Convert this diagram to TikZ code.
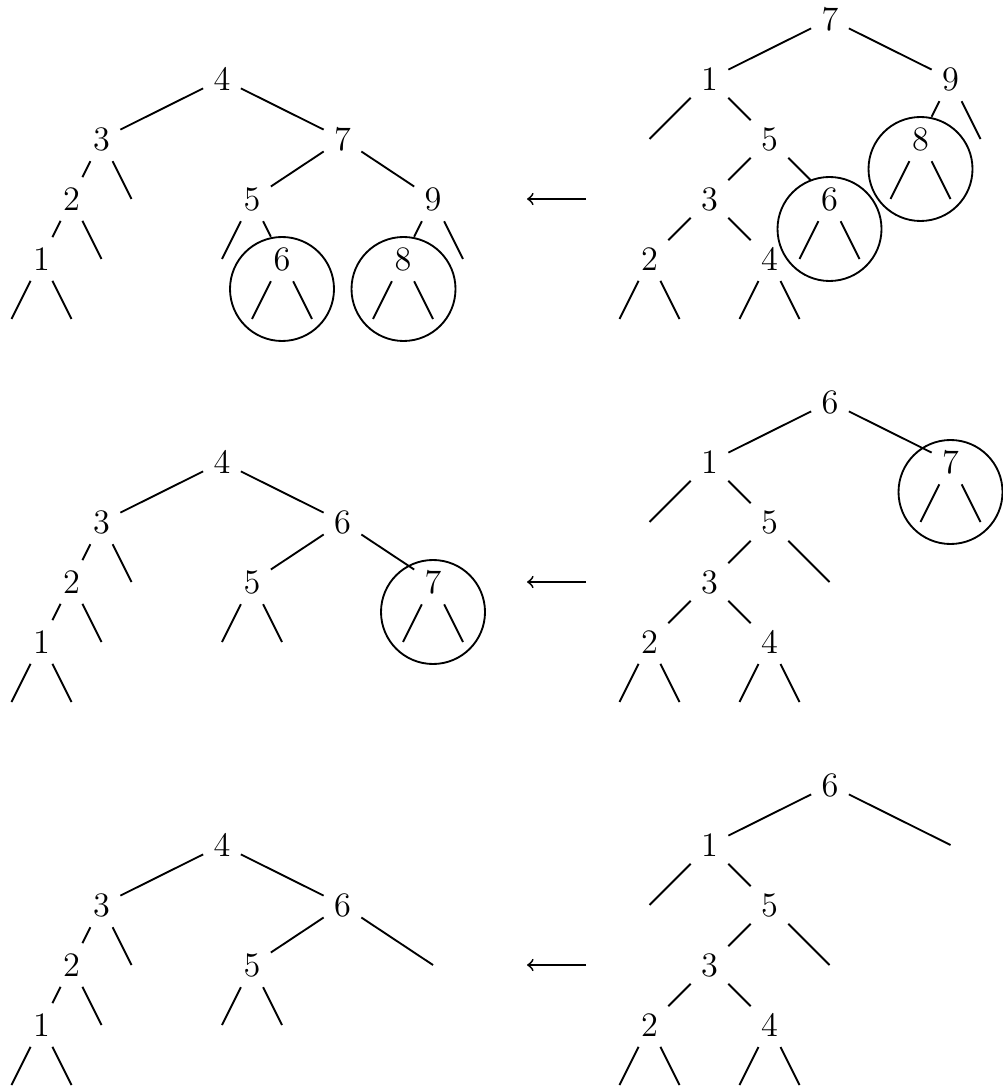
\documentclass[tikz,border=0pt]{standalone}
\begin{document}
\begin{tikzpicture}[x=0.35pt,y=-0.35pt,line width=0.65pt,
  lbl/.style={inner sep=3.33pt,font=\large},
  ring/.style={circle,draw,minimum size=36.4pt,inner sep=0pt},
  arr/.style={->}]
\useasboundingbox (0,0) rectangle (1003,1088);

% ---------- Tree A (top left) ----------
\node[lbl] (A4) at (222,79) {4};
\node[lbl] (A3) at (101.5,139) {3};
\node[lbl] (A7) at (342.5,139) {7};
\node[lbl] (A2) at (71.5,199) {2};
\coordinate (A3r) at (131.5,199);
\node[lbl] (A5) at (252,199) {5};
\node[lbl] (A9) at (433,199) {9};
\node[lbl] (A1) at (41.5,259) {1};
\coordinate (A2r) at (101.5,259);
\coordinate (A5l) at (222,259);
\node[lbl] (A6) at (282,259) {6};
\node[lbl] (A8) at (403,259) {8};
\coordinate (A9r) at (463,259);
\coordinate (A1l) at (11.5,319);
\coordinate (A1r) at (71.5,319);
\coordinate (A6l) at (252,319);
\coordinate (A6r) at (312,319);
\coordinate (A8l) at (373,319);
\coordinate (A8r) at (433,319);
\node[ring] (A6c) at (282,289) {};
\node[ring] (A8c) at (403.5,289) {};
\draw (A4)--(A3) (A4)--(A7) (A3)--(A2) (A3)--(A3r) (A7)--(A5) (A7)--(A9)
      (A2)--(A1) (A2)--(A2r) (A5)--(A5l) (A5)--(A6) (A9)--(A8) (A9)--(A9r)
      (A1)--(A1l) (A1)--(A1r) (A6)--(A6l) (A6)--(A6r) (A8)--(A8l) (A8)--(A8r);

% ---------- Tree B (top right) ----------
\node[lbl] (B7) at (830,19) {7};
\node[lbl] (B1) at (709.5,79) {1};
\node[lbl] (B9) at (950.5,79) {9};
\coordinate (B1l) at (649.5,139);
\node[lbl] (B5) at (769.5,139) {5};
\node[lbl] (B8) at (920.5,139) {8};
\coordinate (B9r) at (980.5,139);
\node[lbl] (B3) at (709.5,199) {3};
\node[lbl] (B6) at (829.5,199) {6};
\coordinate (B8l) at (890.5,199);
\coordinate (B8r) at (950.5,199);
\node[lbl] (B2) at (649.5,259) {2};
\node[lbl] (B4) at (769.5,259) {4};
\coordinate (B6l) at (799.5,259);
\coordinate (B6r) at (859.5,259);
\coordinate (B2l) at (619.5,319);
\coordinate (B2r) at (679.5,319);
\coordinate (B4l) at (739.5,319);
\coordinate (B4r) at (799.5,319);
\node[ring] (B6c) at (829.5,229) {};
\node[ring] (B8c) at (920.5,169) {};
\draw (B7)--(B1) (B7)--(B9) (B1)--(B1l) (B1)--(B5) (B9)--(B8) (B9)--(B9r)
      (B5)--(B3) (B5)--(B6) (B8)--(B8l) (B8)--(B8r) (B3)--(B2) (B3)--(B4)
      (B6)--(B6l) (B6)--(B6r) (B2)--(B2l) (B2)--(B2r) (B4)--(B4l) (B4)--(B4r);

\coordinate (S1) at (586,199);
\coordinate (T1) at (527,199);
\draw[arr] (S1) -- (T1);

% ---------- Tree C (middle left) ----------
\node[lbl] (C4) at (222,462) {4};
\node[lbl] (C3) at (101.5,522) {3};
\node[lbl] (C6) at (342.5,522) {6};
\node[lbl] (C2) at (71.5,582) {2};
\coordinate (C3r) at (131.5,582);
\node[lbl] (C5) at (252,582) {5};
\node[lbl] (C7) at (433,582) {7};
\node[lbl] (C1) at (41.5,642) {1};
\coordinate (C2r) at (101.5,642);
\coordinate (C5l) at (222,642);
\coordinate (C5r) at (282,642);
\coordinate (C7l) at (403,642);
\coordinate (C7r) at (463,642);
\coordinate (C1l) at (11.5,702);
\coordinate (C1r) at (71.5,702);
\node[ring] (C7c) at (433,612) {};
\draw (C4)--(C3) (C4)--(C6) (C3)--(C2) (C3)--(C3r) (C6)--(C5) (C6)--(C7)
      (C2)--(C1) (C2)--(C2r) (C5)--(C5l) (C5)--(C5r) (C7)--(C7l) (C7)--(C7r)
      (C1)--(C1l) (C1)--(C1r);

% ---------- Tree D (middle right) ----------
\node[lbl] (D6) at (830,402) {6};
\node[lbl] (D1) at (709.5,462) {1};
\node[lbl] (D7) at (950.5,462) {7};
\coordinate (D1l) at (649.5,522);
\node[lbl] (D5) at (769.5,522) {5};
\coordinate (D7l) at (920.5,522);
\coordinate (D7r) at (980.5,522);
\node[lbl] (D3) at (709.5,582) {3};
\coordinate (D5r) at (829.5,582);
\node[lbl] (D2) at (649.5,642) {2};
\node[lbl] (D4) at (769.5,642) {4};
\coordinate (D2l) at (619.5,702);
\coordinate (D2r) at (679.5,702);
\coordinate (D4l) at (739.5,702);
\coordinate (D4r) at (799.5,702);
\node[ring] (D7c) at (950.5,492) {};
\draw (D6)--(D1) (D6)--(D7) (D1)--(D1l) (D1)--(D5) (D7)--(D7l) (D7)--(D7r)
      (D5)--(D3) (D5)--(D5r) (D3)--(D2) (D3)--(D4)
      (D2)--(D2l) (D2)--(D2r) (D4)--(D4l) (D4)--(D4r);

\coordinate (S2) at (586,582);
\coordinate (T2) at (527,582);
\draw[arr] (S2) -- (T2);

% ---------- Tree E (bottom left) ----------
\node[lbl] (E4) at (222,845) {4};
\node[lbl] (E3) at (101.5,905) {3};
\node[lbl] (E6) at (342.5,905) {6};
\node[lbl] (E2) at (71.5,965) {2};
\coordinate (E3r) at (131.5,965);
\node[lbl] (E5) at (252,965) {5};
\coordinate (E6r) at (433,965);
\node[lbl] (E1) at (41.5,1025) {1};
\coordinate (E2r) at (101.5,1025);
\coordinate (E5l) at (222,1025);
\coordinate (E5r) at (282,1025);
\coordinate (E1l) at (11.5,1085);
\coordinate (E1r) at (71.5,1085);
\draw (E4)--(E3) (E4)--(E6) (E3)--(E2) (E3)--(E3r) (E6)--(E5) (E6)--(E6r)
      (E2)--(E1) (E2)--(E2r) (E5)--(E5l) (E5)--(E5r) (E1)--(E1l) (E1)--(E1r);

% ---------- Tree F (bottom right) ----------
\node[lbl] (F6) at (830,785) {6};
\node[lbl] (F1) at (709.5,845) {1};
\coordinate (F6r) at (950.5,845);
\coordinate (F1l) at (649.5,905);
\node[lbl] (F5) at (769.5,905) {5};
\node[lbl] (F3) at (709.5,965) {3};
\coordinate (F5r) at (829.5,965);
\node[lbl] (F2) at (649.5,1025) {2};
\node[lbl] (F4) at (769.5,1025) {4};
\coordinate (F2l) at (619.5,1085);
\coordinate (F2r) at (679.5,1085);
\coordinate (F4l) at (739.5,1085);
\coordinate (F4r) at (799.5,1085);
\draw (F6)--(F1) (F6)--(F6r) (F1)--(F1l) (F1)--(F5) (F5)--(F3) (F5)--(F5r)
      (F3)--(F2) (F3)--(F4) (F2)--(F2l) (F2)--(F2r) (F4)--(F4l) (F4)--(F4r);

\coordinate (S3) at (586,965);
\coordinate (T3) at (527,965);
\draw[arr] (S3) -- (T3);
\end{tikzpicture}
\end{document}
